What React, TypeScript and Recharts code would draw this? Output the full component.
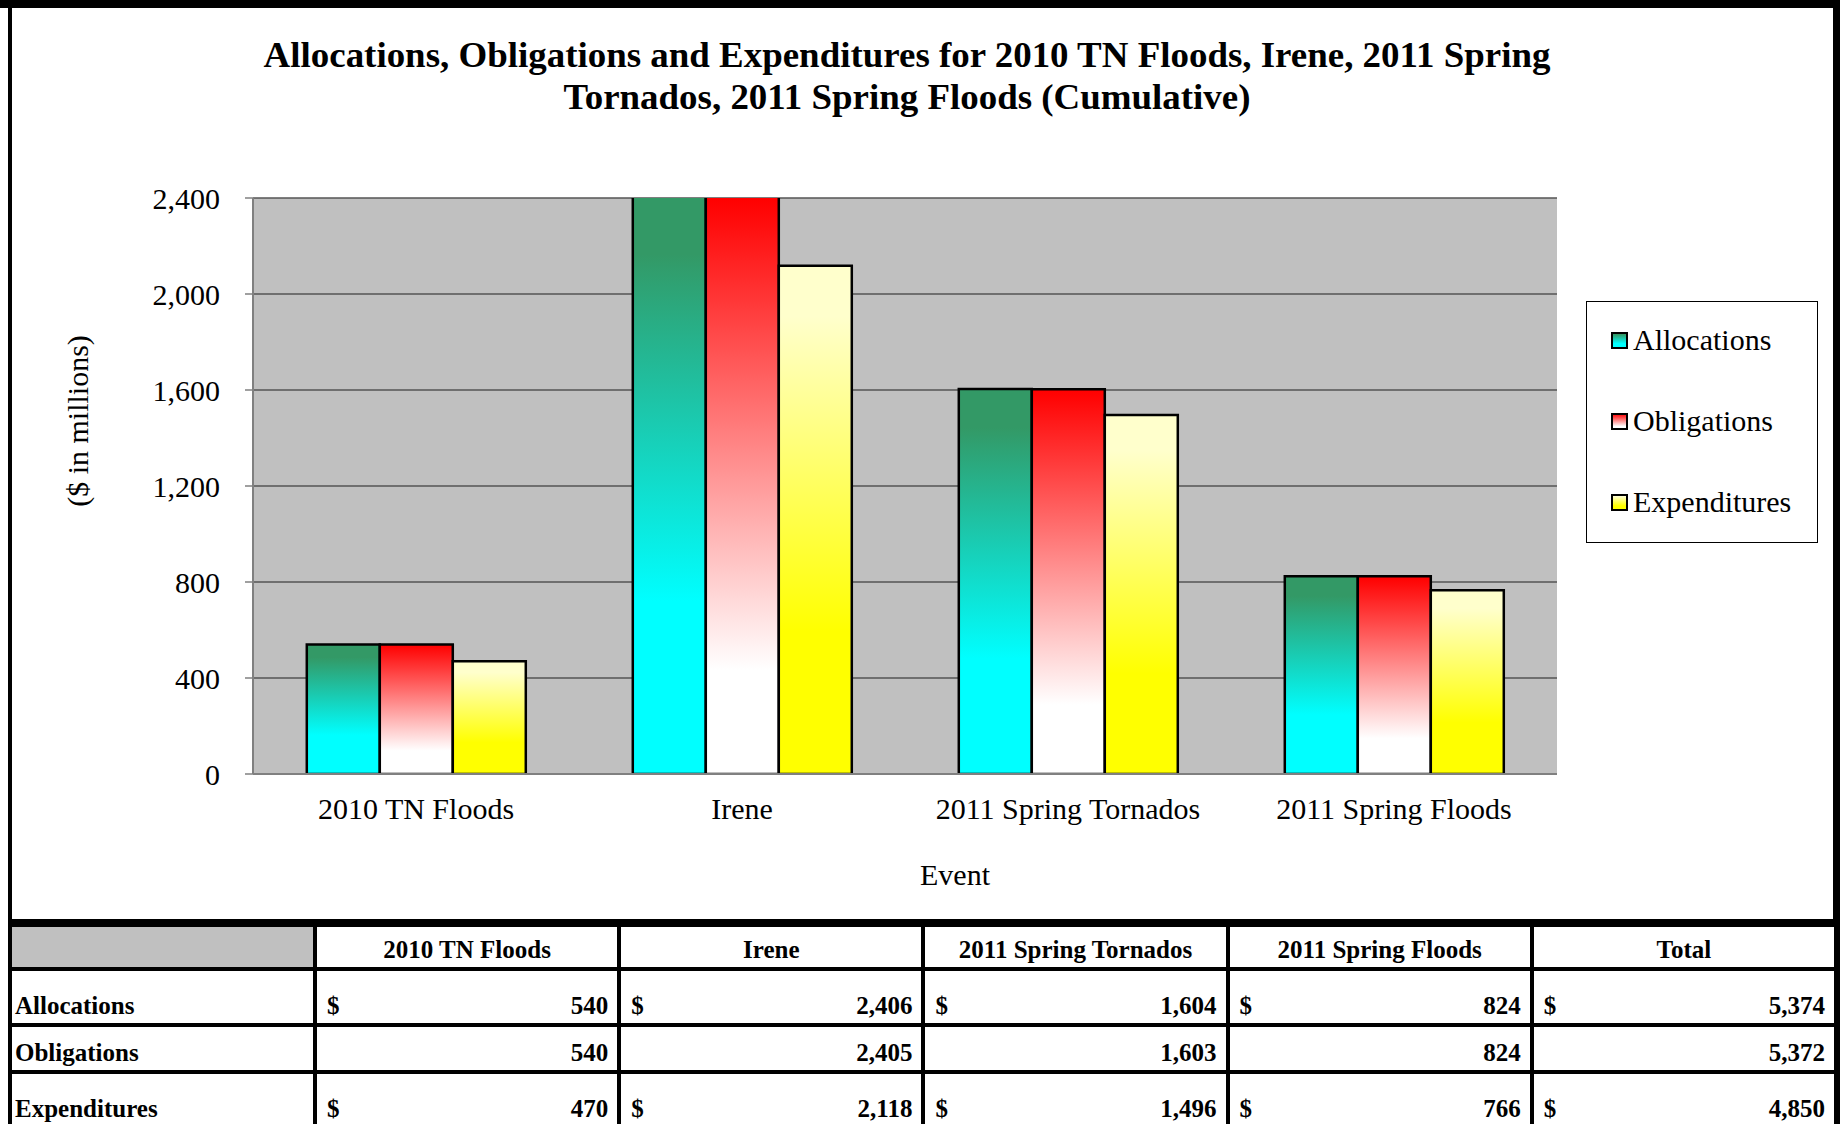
import React from "react";
import { BarChart, Bar, XAxis, YAxis, CartesianGrid, Legend, Label } from "recharts";

const events = ["2010 TN Floods", "Irene", "2011 Spring Tornados", "2011 Spring Floods"];
const allocations = [540, 2406, 1604, 824];
const obligations = [540, 2405, 1603, 824];
const expenditures = [470, 2118, 1496, 766];
const totals = [5374, 5372, 4850];
const seriesNames = ["Allocations", "Obligations", "Expenditures"];
const yTicks = [0, 400, 800, 1200, 1600, 2000, 2400];
const edgeTicks = [0, 1, 2, 3, 4];

const SERIF = '"Liberation Serif", "Times New Roman", serif';
const AXIS_GREY = "#808080";

// gradient stops, top of bar -> bottom of bar
const gradients: Record<string, [string, string][]> = {
  Allocations: [["0%", "#339966"], ["10%", "#339966"], ["70%", "#00FFFF"], ["100%", "#00FFFF"]],
  Obligations: [["0%", "#FF0000"], ["3%", "#FF0808"], ["82%", "#FFFFFF"], ["100%", "#FFFFFF"]],
  Expenditures: [["0%", "#FFFFCC"], ["10%", "#FFFFCC"], ["72%", "#FFFF00"], ["100%", "#FFFF00"]],
};

const chartData = events.map((event, i) => ({
  event,
  Allocations: allocations[i],
  Obligations: obligations[i],
  Expenditures: expenditures[i],
}));

const tableRows = [
  { label: "Allocations", values: allocations, total: totals[0], dollar: true },
  { label: "Obligations", values: obligations, total: totals[1], dollar: false },
  { label: "Expenditures", values: expenditures, total: totals[2], dollar: true },
];

const fmt = (v: number) => v.toLocaleString("en-US");

const GradientDef = ({ id, name }: { id: string; name: string }) => (
  <linearGradient id={id} x1="0" y1="0" x2="0" y2="1">
    {gradients[name].map(([off, col]) => (
      <stop key={off} offset={off} stopColor={col} />
    ))}
  </linearGradient>
);

const renderLegend = () => (
  <div
    style={{
      position: "relative",
      width: 232,
      height: 242,
      border: "1px solid #000",
      boxSizing: "border-box",
      background: "#fff",
      fontFamily: SERIF,
      fontSize: 30,
      color: "#000",
    }}
  >
    {seriesNames.map((name, i) => (
      <div
        key={name}
        style={{
          position: "absolute",
          left: 24,
          top: 23 + i * 81,
          height: 30,
          lineHeight: "30px",
          display: "flex",
          alignItems: "center",
          whiteSpace: "nowrap",
        }}
      >
        <svg width={17} height={17} style={{ display: "block" }}>
          <defs>
            <GradientDef id={`lg-${name}`} name={name} />
          </defs>
          <rect x={1} y={1} width={15} height={15} fill={`url(#lg-${name})`} stroke="#000" strokeWidth={2} />
        </svg>
        <span style={{ marginLeft: 5 }}>{name}</span>
      </div>
    ))}
  </div>
);

const Title = () => (
  <div
    style={{
      position: "absolute",
      left: 0,
      top: 35,
      width: 1814,
      textAlign: "center",
      fontFamily: SERIF,
      fontWeight: "bold",
      fontSize: 35,
      lineHeight: "42px",
      color: "#000",
      transform: "scaleX(1.055)",
      transformOrigin: "907px 0",
    }}
  >
    Allocations, Obligations and Expenditures for 2010 TN Floods, Irene, 2011 Spring
    <br />
    Tornados, 2011 Spring Floods (Cumulative)
  </div>
);

const cellBase: React.CSSProperties = {
  background: "#fff",
  display: "flex",
  alignItems: "flex-end",
  paddingBottom: 5,
  boxSizing: "border-box",
  fontFamily: SERIF,
  fontWeight: "bold",
  fontSize: 25,
  lineHeight: "25px",
  color: "#000",
  overflow: "hidden",
  whiteSpace: "nowrap",
};

const DataTable = () => (
  <div
    style={{
      position: "absolute",
      left: 8,
      top: 919,
      width: 1832,
      height: 215,
      background: "#000",
      padding: "8px 6px 0 4px",
      boxSizing: "border-box",
      display: "grid",
      gridTemplateColumns: "301px 1fr 1fr 1fr 1fr 1fr",
      gridTemplateRows: "40px 52px 43px 52px",
      columnGap: 4,
      rowGap: 4,
    }}
  >
    <div style={{ ...cellBase, background: "#C0C0C0" }} />
    {[...events, "Total"].map((h) => (
      <div key={h} style={{ ...cellBase, justifyContent: "center" }}>
        {h}
      </div>
    ))}
    {tableRows.map((row) => (
      <React.Fragment key={row.label}>
        <div style={{ ...cellBase, paddingLeft: 3 }}>{row.label}</div>
        {[...row.values, row.total].map((v, i) => (
          <div key={i} style={{ ...cellBase, justifyContent: "space-between", padding: "0 9px 5px 10px" }}>
            <span>{row.dollar ? "$" : ""}</span>
            <span>{fmt(v)}</span>
          </div>
        ))}
      </React.Fragment>
    ))}
  </div>
);

export default function App() {
  return (
    <div
      style={{
        position: "absolute",
        left: 0,
        top: 0,
        width: 1847,
        height: 1124,
        overflow: "hidden",
        background: "#fff",
      }}
    >
      {/* frame */}
      <div style={{ position: "absolute", left: 0, top: 0, width: 1840, height: 8, background: "#000" }} />
      <div style={{ position: "absolute", left: 8, top: 0, width: 4, height: 927, background: "#000" }} />
      <div style={{ position: "absolute", left: 1833, top: 0, width: 7, height: 927, background: "#000" }} />

      <div style={{ position: "absolute", left: 0, top: 0 }}>
        <BarChart
          width={1847}
          height={919}
          data={chartData}
          margin={{ top: 198, right: 58, bottom: 85, left: 133 }}
          barCategoryGap="16.5%"
          barGap={0}
        >
          <defs>
            {seriesNames.map((name) => (
              <GradientDef key={name} id={`grad-${name}`} name={name} />
            ))}
          </defs>
          <CartesianGrid vertical={false} stroke="#555555" strokeWidth={1.5} fill="#C0C0C0" fillOpacity={1} />
          <XAxis
            xAxisId="edge"
            type="number"
            domain={[0, 4]}
            ticks={edgeTicks}
            tick={false}
            height={0}
            tickSize={9}
            axisLine={{ stroke: AXIS_GREY, strokeWidth: 2 }}
            tickLine={{ stroke: AXIS_GREY, strokeWidth: 1.5 }}
          />
          <XAxis
            dataKey="event"
            height={60}
            tickSize={8}
            tickMargin={16}
            tickLine={false}
            axisLine={{ stroke: AXIS_GREY, strokeWidth: 2 }}
            tick={{ fontFamily: SERIF, fontSize: 30, fill: "#000" }}
            interval={0}
          >
            <Label
              content={() => (
                <text x={955} y={885} textAnchor="middle" fontFamily={SERIF} fontSize={30} fill="#000">
                  Event
                </text>
              )}
            />
          </XAxis>
          <YAxis
            domain={[0, 2400]}
            ticks={yTicks}
            allowDataOverflow
            width={120}
            tickSize={8}
            tickMargin={25}
            tickFormatter={fmt}
            axisLine={{ stroke: AXIS_GREY, strokeWidth: 2 }}
            tickLine={{ stroke: AXIS_GREY, strokeWidth: 1.5 }}
            tick={{ fontFamily: SERIF, fontSize: 30, fill: "#000" }}
          >
            <Label
              content={() => (
                <text
                  x={77}
                  y={421}
                  transform="rotate(-90 77 421)"
                  textAnchor="middle"
                  dominantBaseline="central"
                  fontFamily={SERIF}
                  fontSize={30}
                  fill="#000"
                >
                  ($ in millions)
                </text>
              )}
            />
          </YAxis>
          <YAxis
            yAxisId="right"
            orientation="right"
            domain={[0, 2400]}
            width={0}
            tick={false}
            tickLine={false}
            axisLine={{ stroke: AXIS_GREY, strokeWidth: 2 }}
          />
          <Legend
            layout="vertical"
            align="right"
            verticalAlign="middle"
            content={renderLegend}
            wrapperStyle={{ position: "absolute", left: 1586, top: 301, width: 232, height: 242 }}
          />
          {seriesNames.map((name) => (
            <Bar
              key={name}
              dataKey={name}
              fill={`url(#grad-${name})`}
              stroke="#000"
              strokeWidth={2.5}
              isAnimationActive={false}
            />
          ))}
        </BarChart>
      </div>

      <Title />
      <DataTable />
    </div>
  );
}
